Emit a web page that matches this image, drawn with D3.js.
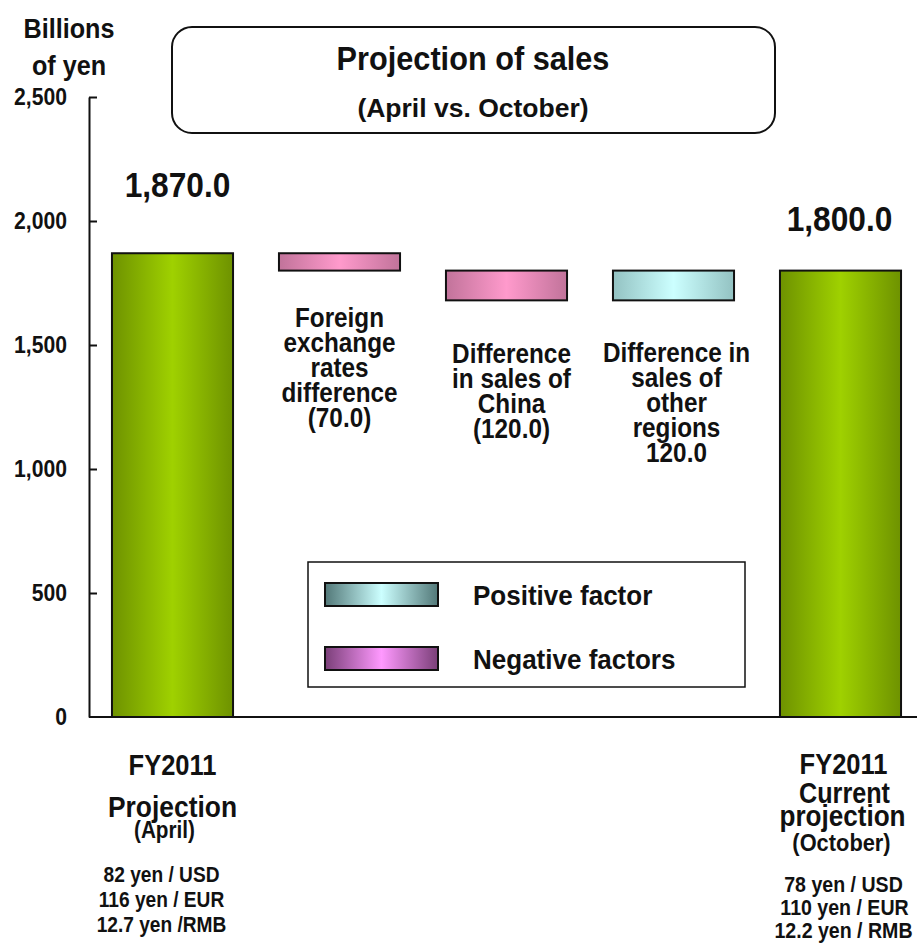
<!DOCTYPE html>
<html>
<head>
<meta charset="utf-8">
<script src="https://cdn.jsdelivr.net/npm/d3@7"></script>
<style>
  html, body { margin: 0; padding: 0; background: #fff; }
  svg text { font-family: "Liberation Sans", Arial, sans-serif; font-weight: bold; fill: #111; }
</style>
</head>
<body>
<svg id="chart" width="917" height="945"></svg>
<script>
// Waterfall steps, in billions of yen
const categories = ["april", "fx", "china", "other", "october"];
const startValues = [0, 1870, 1800, 1680, 0];
const endValues   = [1870, 1800, 1680, 1800, 1800];
const kinds       = ["total", "negative", "negative", "positive", "total"];
const valueLabels = ["1,870.0", null, null, null, "1,800.0"];
const yTicks      = [0, 500, 1000, 1500, 2000, 2500];

const stepLabels = [
  null,
  ["Foreign", "exchange", "rates", "difference", "(70.0)"],
  ["Difference", "in sales of", "China", "(120.0)"],
  ["Difference in", "sales of", "other", "regions", "120.0"],
  null
];

const svg = d3.select("#chart");

const x = d3.scaleBand().domain(categories).range([89, 924])
  .paddingInner(0.275).paddingOuter(0.1375);
const y = d3.scaleLinear().domain([0, 2500]).range([717, 97]);
const cx = c => x(c) + x.bandwidth() / 2;

// Condensed text: drawn at (px, py), squeezed horizontally by sx
function label(parent, px, py, txt, size, sx, anchor) {
  return parent.append("text")
    .attr("transform", `translate(${px},${py}) scale(${sx},1)`)
    .attr("text-anchor", anchor || "middle")
    .attr("font-size", size)
    .text(txt);
}

// Gradients: dark edges, light centre
const defs = svg.append("defs");
const grads = {
  total:    ["#6e9200", "#9fd100"],
  negative: ["#c1739a", "#ff9acc"],
  positive: ["#93c2c2", "#ccffff"],
  legPos:   ["#527878", "#ccffff"],
  legNeg:   ["#7a3f78", "#ff99ff"]
};
Object.entries(grads).forEach(([id, [edge, mid]]) => {
  const g = defs.append("linearGradient").attr("id", "g-" + id)
    .attr("x1", 0).attr("x2", 1).attr("y1", 0).attr("y2", 0);
  g.append("stop").attr("offset", "0%").attr("stop-color", edge);
  g.append("stop").attr("offset", "50%").attr("stop-color", mid);
  g.append("stop").attr("offset", "100%").attr("stop-color", edge);
});

// Title box
svg.append("rect").attr("x", 172).attr("y", 27).attr("width", 603).attr("height", 106)
  .attr("rx", 20).attr("ry", 20).attr("fill", "#fff").attr("stroke", "#111").attr("stroke-width", 2);
label(svg, 473, 70, "Projection of sales", 33, 0.93);
label(svg, 473, 117, "(April vs. October)", 25.5, 1.04);

// Unit label
label(svg, 69, 38, "Billions", 28, 0.9);
label(svg, 69, 75, "of yen", 28, 0.9);

// Y axis with inward ticks
const yAxis = d3.axisLeft(y).tickValues(yTicks).tickFormat(d3.format(","))
  .tickSizeInner(-8).tickSizeOuter(0).tickPadding(24);
const ga = svg.append("g").attr("transform", "translate(89,0)").call(yAxis);
ga.select(".domain").attr("stroke", "#111").attr("stroke-width", 2);
ga.selectAll(".tick line").attr("stroke", "#111").attr("stroke-width", 2);
ga.selectAll(".tick text").attr("font-size", 23).attr("fill", "#111")
  .attr("transform", "scale(0.92,1)")
  .style("font-family", "'Liberation Sans', Arial, sans-serif")
  .style("font-weight", "bold");
ga.selectAll(".tick").filter(d => d === 0).select("line").remove();

// Bars
svg.append("g").selectAll("rect").data(categories).join("rect")
  .attr("x", d => x(d))
  .attr("width", x.bandwidth())
  .attr("y", (d, i) => y(Math.max(startValues[i], endValues[i])))
  .attr("height", (d, i) => Math.abs(y(startValues[i]) - y(endValues[i])))
  .attr("fill", (d, i) => "url(#g-" + kinds[i] + ")")
  .attr("stroke", "#111").attr("stroke-width", 2);

// Baseline
svg.append("line").attr("x1", 89).attr("x2", 917).attr("y1", y(0)).attr("y2", y(0))
  .attr("stroke", "#111").attr("stroke-width", 2);

// Value labels above total bars
const labelLift = [56, null, null, null, 40];
const labelShift = [5, 0, 0, 0, -1];
categories.forEach((c, i) => {
  if (!valueLabels[i]) return;
  label(svg, cx(c) + labelShift[i], y(endValues[i]) - labelLift[i], valueLabels[i], 36, 0.88);
});

// Step descriptions beneath the floating bars
const stepFirstLine = [null, 327, 363, 362, null];
const stepShift = [0, 0, 5, 3, 0];
categories.forEach((c, i) => {
  const lines = stepLabels[i];
  if (!lines) return;
  lines.forEach((ln, k) => label(svg, cx(c) + stepShift[i], stepFirstLine[i] + k * 25, ln, 27, 0.9));
});

// Category captions under the axis: [text, dx, baseline, size, squeeze]
const captions = [
  { c: "april", lines: [
    ["FY2011", 0, 775, 30, 0.85], ["Projection", 0, 817, 30, 0.88], ["(April)", -8, 838, 23, 0.9],
    ["82 yen / USD", -11, 882, 22, 0.87], ["116 yen / EUR", -11, 907, 22, 0.87], ["12.7 yen /RMB", -11, 932, 22, 0.87]] },
  { c: "october", lines: [
    ["FY2011", 3, 774, 30, 0.85], ["Current", 4, 803, 30, 0.84], ["projection", 2, 826, 30, 0.87],
    ["(October)", 1, 851, 23, 0.95],
    ["78 yen / USD", 3, 892, 22, 0.89], ["110 yen / EUR", 4, 915, 22, 0.89], ["12.2 yen / RMB", 3, 938, 22, 0.89]] }
];
captions.forEach(cap => {
  cap.lines.forEach(([txt, dx, yy, fs, sx]) => label(svg, cx(cap.c) + dx, yy, txt, fs, sx));
});

// Legend
const lg = svg.append("g");
lg.append("rect").attr("x", 308).attr("y", 562).attr("width", 437).attr("height", 125)
  .attr("fill", "#fff").attr("stroke", "#111").attr("stroke-width", 1.5);
const legendItems = [["legPos", "Positive factor", 583], ["legNeg", "Negative factors", 647]];
legendItems.forEach(([g, name, top]) => {
  lg.append("rect").attr("x", 325).attr("y", top).attr("width", 113).attr("height", 23)
    .attr("fill", "url(#g-" + g + ")").attr("stroke", "#111").attr("stroke-width", 2);
  label(lg, 473, top + 22, name, 28, 0.93, "start");
});
</script>
</body>
</html>
